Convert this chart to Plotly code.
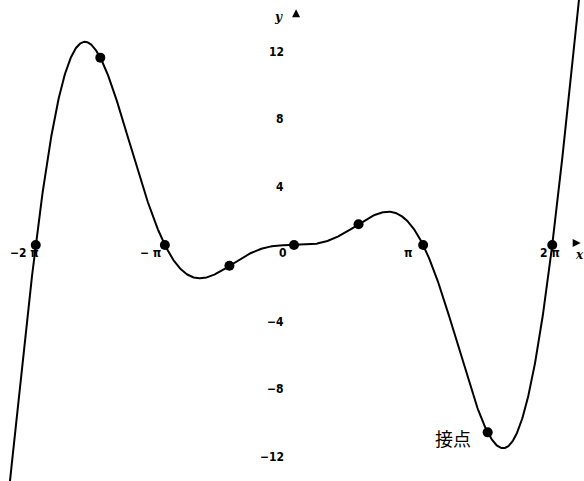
import numpy as np
import plotly.graph_objects as go

# Graph of y = (x^2 / 2) * sin x, marked at every multiple of pi/2
PI = np.pi
x_curve = np.linspace(-7.2, 7.1, 1200)
y_curve = 0.5 * x_curve**2 * np.sin(x_curve)

dot_x = [k * PI / 2 for k in range(-4, 5)]
dot_y = [0.5 * v**2 * np.sin(v) for v in dot_x]
dot_y = [0.0 if abs(v) < 1e-9 else v for v in dot_y]

x_tick_vals = [-2 * PI, -PI, 0, PI, 2 * PI]
x_tick_text = ["\u22122 \u03c0", "\u2212 \u03c0", "0", "\u03c0", "2 \u03c0"]
y_tick_vals = [12, 8, 4, -4, -8, -12]
y_tick_text = ["12", "8", "4", "\u22124", "\u22128", "\u221212"]

tangent_x = 3 * PI / 2
tangent_label = "接点"

X_RANGE = [-7.153, 7.056]
Y_RANGE = [-13.985, 14.52]

TICK_FONT = dict(family="Liberation Sans Narrow, DejaVu Sans Condensed, Liberation Sans",
                 size=12, color="black", weight=600)

fig = go.Figure()
fig.add_trace(go.Scatter(x=x_curve, y=y_curve, mode="lines",
                         line=dict(color="black", width=2), hoverinfo="skip"))
fig.add_trace(go.Scatter(x=dot_x, y=dot_y, mode="markers",
                         marker=dict(color="black", size=10), hoverinfo="skip"))

# axis arrowheads (the axis lines themselves are not drawn)
fig.add_trace(go.Scatter(x=[X_RANGE[1] - 0.08], y=[0.12], mode="markers",
                         marker=dict(symbol="arrow-right", size=8, color="black"),
                         hoverinfo="skip"))
fig.add_trace(go.Scatter(x=[0.05], y=[Y_RANGE[1] - 0.55], mode="markers",
                         marker=dict(symbol="arrow-up", size=8, color="black"),
                         hoverinfo="skip"))

annotations = []
x_shifts = [5, -2, -5, -8, 10]
for v, t, s in zip(x_tick_vals, x_tick_text, x_shifts):
    annotations.append(dict(x=v, y=0, xref="x", yref="y", text=t, showarrow=False,
                            xanchor="right", yanchor="middle", xshift=s, yshift=-8,
                            font=TICK_FONT))
for v, t in zip(y_tick_vals, y_tick_text):
    annotations.append(dict(x=0, y=v, xref="x", yref="y", text=t, showarrow=False,
                            xanchor="right", yanchor="middle", xshift=-8, yshift=-9,
                            font=TICK_FONT))

annotations.append(dict(x=0, y=Y_RANGE[1] - 1.0, xref="x", yref="y", text="<b><i>y</i></b>",
                        showarrow=False, xanchor="right", yanchor="middle", xshift=-9,
                        font=dict(family="DejaVu Serif", size=12, color="black")))
annotations.append(dict(x=X_RANGE[1] - 0.12, y=0, xref="x", yref="y", text="<b><i>x</i></b>",
                        showarrow=False, xanchor="center", yanchor="middle", yshift=-10,
                        font=dict(family="DejaVu Serif", size=12, color="black")))

annotations.append(dict(x=tangent_x, y=0.5 * tangent_x**2 * np.sin(tangent_x),
                        xref="x", yref="y", text=tangent_label, showarrow=False,
                        xanchor="right", yanchor="middle", xshift=-15, yshift=-6,
                        font=dict(family="Noto Sans CJK JP", size=18, color="black")))

fig.update_layout(
    width=584, height=481,
    margin=dict(l=0, r=0, t=0, b=0),
    paper_bgcolor="white", plot_bgcolor="white",
    showlegend=False,
    xaxis=dict(range=X_RANGE, visible=False, fixedrange=True),
    yaxis=dict(range=Y_RANGE, visible=False, fixedrange=True),
    annotations=annotations,
)

fig.write_html("out.html")
